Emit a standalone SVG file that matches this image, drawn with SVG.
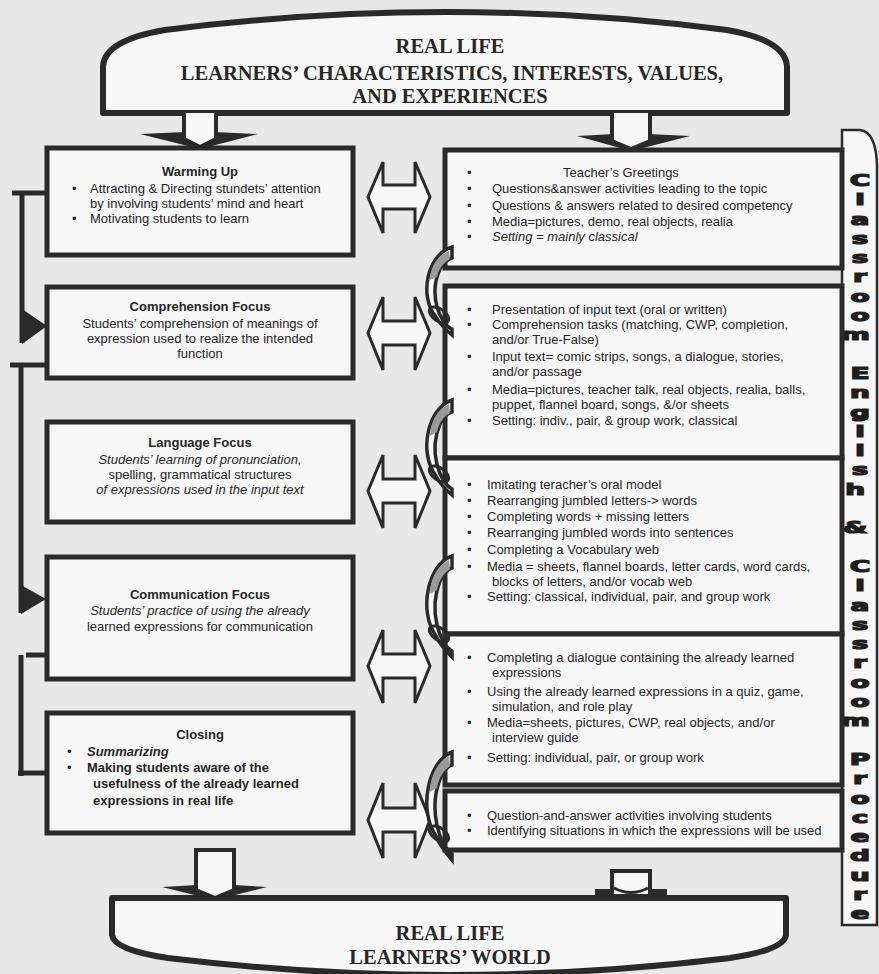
<svg xmlns="http://www.w3.org/2000/svg" width="879" height="974" viewBox="0 0 879 974">
  <style>
    .bg { fill: #e8e8e8; }
    .box { fill: #f7f7f7; stroke: #2a2a2a; stroke-width: 5; }
    .band { fill: #f7f7f7; stroke: #2a2a2a; stroke-width: 6; stroke-linejoin: round; }
    .t { font-family: "Liberation Sans", Arial, sans-serif; font-size: 13px; fill: #262626; }
    .hd { font-weight: bold; text-anchor: middle; }
    .c { text-anchor: middle; }
    .b { font-weight: bold; }
    .i { font-style: italic; }
    .serif { font-family: "Liberation Serif", "Times New Roman", serif; font-weight: bold; font-size: 20.5px; fill: #262626; text-anchor: middle; }
    .dbl { fill: #f7f7f7; stroke: #2a2a2a; stroke-width: 3; stroke-linejoin: miter; }
    .line { fill: none; stroke: #2a2a2a; stroke-width: 5; }
    .head { fill: #2a2a2a; }
    .shaft { fill: #f7f7f7; stroke: #2a2a2a; stroke-width: 4; stroke-linejoin: miter; }
    .link { fill: #f7f7f7; stroke: #2a2a2a; stroke-width: 3.5; }
    .shade { fill: #9a9a9a; }
    .loop { fill: none; stroke: #2a2a2a; stroke-width: 3; }
    .side { font-family: "DejaVu Sans", "Liberation Sans", sans-serif; font-weight: bold; font-size: 15.5px; fill: #1e1e1e; stroke: #1e1e1e; stroke-width: 1.2; text-anchor: middle; }
  </style>

  <rect class="bg" x="0" y="0" width="879" height="974"/>

  <!-- top banner -->
  <g id="real-life-top">
    <path class="band" d="M 103 113 L 103 66 Q 105 40 165 30 Q 447 -6 727 30 Q 785 40 787 66 L 787 113 Z"/>
    <text class="serif" x="450" y="53">REAL LIFE</text>
    <text class="serif" x="452" y="80">LEARNERS’ CHARACTERISTICS, INTERESTS, VALUES,</text>
    <text class="serif" x="450" y="103">AND EXPERIENCES</text>
  </g>

  <!-- bottom banner -->
  <g id="real-life-bottom">
    <path class="band" d="M 112 898 L 786 898 L 786 935 Q 784 950 730 958 Q 449 992 168 958 Q 114 950 112 935 Z"/>
    <text class="serif" x="450" y="940">REAL LIFE</text>
    <text class="serif" x="450" y="964">LEARNERS’ WORLD</text>
  </g>

  <!-- vertical side banner, letters stacked upright -->
  <g id="side-banner">
    <path d="M 842 130 L 860 130 Q 876 132 877 165 L 877 925 L 842 925 Z" fill="#f7f7f7" stroke="#2a2a2a" stroke-width="2.5"/>
    <g transform="translate(860 0) scale(1.8 1)">
      <text class="side">
        <tspan x="0" y="186">C</tspan><tspan x="0" y="205.3">l</tspan><tspan x="0" y="224.6">a</tspan><tspan x="0" y="243.9">s</tspan><tspan x="0" y="263.2">s</tspan><tspan x="0" y="282.5">r</tspan><tspan x="0" y="301.8">o</tspan><tspan x="0" y="321.1">o</tspan><tspan x="0" y="340.4">m</tspan>
        <tspan x="0" y="379">E</tspan><tspan x="0" y="398.3">n</tspan><tspan x="0" y="417.6">g</tspan><tspan x="0" y="436.9">l</tspan><tspan x="0" y="456.2">i</tspan><tspan x="0" y="475.5">s</tspan><tspan x="0" y="494.8">h</tspan>
        <tspan x="0" y="533.4">&amp;</tspan>
        <tspan x="0" y="572">C</tspan><tspan x="0" y="591.3">l</tspan><tspan x="0" y="610.6">a</tspan><tspan x="0" y="629.9">s</tspan><tspan x="0" y="649.2">s</tspan><tspan x="0" y="668.5">r</tspan><tspan x="0" y="687.8">o</tspan><tspan x="0" y="707.1">o</tspan><tspan x="0" y="726.4">m</tspan>
        <tspan x="0" y="765">P</tspan><tspan x="0" y="784.3">r</tspan><tspan x="0" y="803.6">o</tspan><tspan x="0" y="822.9">c</tspan><tspan x="0" y="842.2">e</tspan><tspan x="0" y="861.5">d</tspan><tspan x="0" y="880.8">u</tspan><tspan x="0" y="900.1">r</tspan><tspan x="0" y="919.4">e</tspan>
      </text>
    </g>
  </g>

  <!-- left column: lesson stages -->
  <g id="warming-up">
    <rect class="box" x="47" y="148" width="306" height="107"/>
    <text class="t hd" x="200" y="176">Warming Up</text>
    <text class="t" x="72" y="193">•</text>
    <text class="t" x="90" y="193">Attracting &amp; Directing stundets’ attention</text>
    <text class="t" x="90" y="208">by involving students’ mind and heart</text>
    <text class="t" x="72" y="223">•</text>
    <text class="t" x="90" y="223">Motivating students to learn</text>
  </g>

  <g id="comprehension-focus">
    <rect class="box" x="47" y="287" width="306" height="91"/>
    <text class="t hd" x="200" y="311">Comprehension Focus</text>
    <text class="t c" x="200" y="328">Students’ comprehension of meanings of</text>
    <text class="t c" x="200" y="343">expression used to realize the intended</text>
    <text class="t c" x="200" y="358">function</text>
  </g>

  <g id="language-focus">
    <rect class="box" x="47" y="422" width="306" height="100"/>
    <text class="t hd" x="200" y="447">Language Focus</text>
    <text class="t c i" x="200" y="464">Students’ learning of  pronunciation,</text>
    <text class="t c" x="200" y="479">spelling, grammatical structures</text>
    <text class="t c i" x="200" y="494">of expressions used in the input text</text>
  </g>

  <g id="communication-focus">
    <rect class="box" x="47" y="557" width="306" height="122"/>
    <text class="t hd" x="200" y="599">Communication Focus</text>
    <text class="t c i" x="200" y="615">Students’ practice of using the already</text>
    <text class="t c" x="200" y="631">learned  expressions for communication</text>
  </g>

  <g id="closing">
    <rect class="box" x="47" y="713" width="306" height="120"/>
    <text class="t hd" x="200" y="739">Closing</text>
    <text class="t i" x="67" y="756">•</text>
    <text class="t b i" x="87" y="756">Summarizing</text>
    <text class="t" x="67" y="772">•</text>
    <text class="t b" x="87" y="772">Making students aware of the</text>
    <text class="t b" x="93" y="788">usefulness of the already learned</text>
    <text class="t b" x="93" y="805">expressions in real life</text>
  </g>

  <!-- right column: activities, media and settings -->
  <g id="greetings-activities">
    <rect class="box" x="445" y="150" width="397" height="118"/>
    <text class="t" x="467" y="177">•</text>
    <text class="t" x="563" y="177">Teacher’s Greetings</text>
    <text class="t" x="467" y="193">•</text>
    <text class="t" x="492" y="193">Questions&amp;answer activities leading to the topic</text>
    <text class="t" x="467" y="210">•</text>
    <text class="t" x="492" y="210">Questions &amp; answers related  to desired competency</text>
    <text class="t" x="467" y="226">•</text>
    <text class="t" x="492" y="226">Media=pictures,  demo, real objects, realia</text>
    <text class="t i" x="467" y="241">•</text>
    <text class="t i" x="492" y="241">Setting = mainly classical</text>
  </g>

  <g id="comprehension-activities">
    <rect class="box" x="445" y="286" width="397" height="172"/>
    <text class="t" x="467" y="314">•</text>
    <text class="t" x="492" y="314">Presentation of input text  (oral or written)</text>
    <text class="t" x="467" y="329">•</text>
    <text class="t" x="492" y="329">Comprehension tasks (matching,  CWP, completion,</text>
    <text class="t" x="492" y="344">and/or True-False)</text>
    <text class="t" x="467" y="361">•</text>
    <text class="t" x="492" y="361">Input text= comic strips, songs, a dialogue,  stories,</text>
    <text class="t" x="492" y="376">and/or passage</text>
    <text class="t" x="467" y="394">•</text>
    <text class="t" x="492" y="394">Media=pictures, teacher talk,  real objects, realia, balls,</text>
    <text class="t" x="492" y="409">puppet, flannel board, songs,  &amp;/or sheets</text>
    <text class="t" x="467" y="425">•</text>
    <text class="t" x="492" y="425">Setting: indiv., pair, &amp; group work, classical</text>
  </g>

  <g id="language-activities">
    <rect class="box" x="445" y="458" width="397" height="176"/>
    <text class="t" x="467" y="489">•</text>
    <text class="t" x="487" y="489">Imitating teracher’s oral  model</text>
    <text class="t" x="467" y="505">•</text>
    <text class="t" x="487" y="505">Rearranging jumbled letters-&gt; words</text>
    <text class="t" x="467" y="521">•</text>
    <text class="t" x="487" y="521">Completing words + missing letters</text>
    <text class="t" x="467" y="537">•</text>
    <text class="t" x="487" y="537">Rearranging jumbled words into sentences</text>
    <text class="t" x="467" y="554">•</text>
    <text class="t" x="487" y="554">Completing a Vocabulary web</text>
    <text class="t" x="467" y="571">•</text>
    <text class="t" x="487" y="571">Media = sheets, flannel boards, letter cards, word cards,</text>
    <text class="t" x="492" y="586">blocks of letters, and/or vocab web</text>
    <text class="t" x="467" y="601">•</text>
    <text class="t" x="487" y="601">Setting: classical, individual, pair, and group work</text>
  </g>

  <g id="communication-activities">
    <rect class="box" x="445" y="634" width="397" height="151"/>
    <text class="t" x="467" y="662">•</text>
    <text class="t" x="487" y="662">Completing a dialogue containing the already learned</text>
    <text class="t" x="492" y="677">expressions</text>
    <text class="t" x="467" y="696">•</text>
    <text class="t" x="487" y="696">Using the already learned expressions in a quiz, game,</text>
    <text class="t" x="492" y="711">simulation, and role play</text>
    <text class="t" x="467" y="727">•</text>
    <text class="t" x="487" y="727">Media=sheets, pictures, CWP, real objects, and/or</text>
    <text class="t" x="492" y="742">interview guide</text>
    <text class="t" x="467" y="762">•</text>
    <text class="t" x="487" y="762">Setting: individual, pair, or group work</text>
  </g>

  <g id="closing-activities">
    <rect class="box" x="445" y="791" width="397" height="59"/>
    <text class="t" x="467" y="820">•</text>
    <text class="t" x="487" y="820">Question-and-answer activities involving students</text>
    <text class="t" x="467" y="835">•</text>
    <text class="t" x="487" y="835">Identifying situations in which the expressions will be used</text>
  </g>

  <!-- connectors -->
  <g id="connectors">
    <!-- downward block arrows -->
    <polygon class="head" points="140,134 186,132 186,140 200,149"/>
    <polygon class="head" points="258,134 214,132 214,140 200,149"/>
    <path class="shaft" d="M 184 113 L 184 139 L 200 147 L 216 139 L 216 113"/>

    <polygon class="head" points="577,136 614,134 614,142 631,151"/>
    <polygon class="head" points="690,136 648,134 648,142 631,151"/>
    <path class="shaft" d="M 612 113 L 612 141 L 631 149 L 650 141 L 650 113"/>

    <polygon class="head" points="162,887 197,885 197,892 215,900"/>
    <polygon class="head" points="267,887 233,885 233,892 215,900"/>
    <path class="shaft" d="M 196 850 L 196 890 L 215 898 L 234 890 L 234 850 Z"/>

    <!-- upward stub on the lower banner -->
    <rect class="head" x="595" y="889" width="72" height="10"/>
    <rect class="shaft" x="612" y="871" width="38" height="25"/>
    <path class="loop" d="M 614 888 Q 631 897 648 888"/>

    <!-- two-way arrows between stages and activities -->
    <path class="dbl" d="M 368 197 L 383 162 L 383 185 L 415 185 L 415 162 L 430 197 L 415 233 L 415 209 L 383 209 L 383 233 Z"/>
    <path class="dbl" d="M 368 333 L 383 297 L 383 321 L 415 321 L 415 297 L 430 333 L 415 370 L 415 345 L 383 345 L 383 370 Z"/>
    <path class="dbl" d="M 368 491 L 383 455 L 383 479 L 415 479 L 415 455 L 430 491 L 415 528 L 415 503 L 383 503 L 383 528 Z"/>
    <path class="dbl" d="M 368 666 L 383 630 L 383 654 L 415 654 L 415 630 L 430 666 L 415 703 L 415 678 L 383 678 L 383 703 Z"/>
    <path class="dbl" d="M 368 820 L 383 783 L 383 808 L 415 808 L 415 783 L 430 820 L 415 858 L 415 832 L 383 832 L 383 858 Z"/>

    <!-- feedback lines on the left -->
    <path class="line" d="M 12 193 L 47 193 M 22 193 L 22 343"/>
    <polygon class="head" points="22,309 47,326 22,344"/>
    <path class="line" d="M 10 365 L 47 365 M 21 365 L 21 613"/>
    <polygon class="head" points="21,585 46,599 21,614"/>
    <path class="line" d="M 26 655 L 47 655 M 21 655 L 21 776 M 18 773 L 47 773"/>

    <!-- clips joining the activity boxes -->
    <g id="clip-1">
      <path class="link" d="M 452 247 C 428 254, 418 295, 436 317 C 440 324, 446 330, 452 335 L 452 329 C 440 324, 428 295, 440 269 C 444 262, 448 259, 452 258 Z"/>
      <path class="shade" d="M 449 251 C 436 256, 430 269, 430 280 L 437 277 C 439 268, 444 262, 450 259 Z"/>
      <ellipse class="loop" cx="439" cy="315" rx="11" ry="6" transform="rotate(35 439 315)"/>
    </g>
    <g id="clip-2">
      <path class="link" d="M 452 400 C 428 408, 418 452, 436 476 C 440 484, 446 490, 452 495 L 452 489 C 440 483, 428 452, 440 424 C 444 416, 448 413, 452 412 Z"/>
      <path class="shade" d="M 449 404 C 436 410, 430 424, 430 436 L 437 432 C 439 423, 444 416, 450 413 Z"/>
      <ellipse class="loop" cx="439" cy="474" rx="11" ry="6" transform="rotate(35 439 474)"/>
    </g>
    <g id="clip-3">
      <path class="link" d="M 452 556 C 428 564, 418 611, 436 636 C 440 645, 446 651, 452 657 L 452 651 C 440 645, 428 611, 440 581 C 444 573, 448 569, 452 568 Z"/>
      <path class="shade" d="M 449 560 C 436 566, 430 581, 430 594 L 437 590 C 439 580, 444 573, 450 569 Z"/>
      <ellipse class="loop" cx="439" cy="634" rx="11" ry="6" transform="rotate(35 439 634)"/>
    </g>
    <g id="clip-4">
      <path class="link" d="M 452 752 C 428 761, 418 810, 436 836 C 440 846, 446 853, 452 860 L 452 854 C 440 847, 428 810, 440 779 C 444 770, 448 766, 452 765 Z"/>
      <path class="shade" d="M 449 756 C 436 763, 430 778, 430 792 L 437 788 C 439 777, 444 770, 450 766 Z"/>
      <ellipse class="loop" cx="439" cy="834" rx="11" ry="6" transform="rotate(35 439 834)"/>
    </g>
  </g>
</svg>
